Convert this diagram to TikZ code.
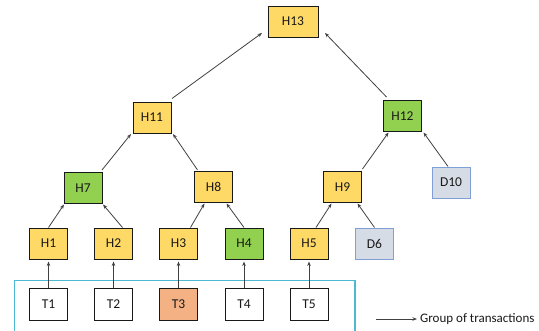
\documentclass[tikz,border=0pt]{standalone}
\usepackage{fontspec}
\setmainfont{Carlito}
\usetikzlibrary{arrows.meta,calc}
\definecolor{hy}{HTML}{FFD966}
\definecolor{hg}{HTML}{92D050}
\definecolor{dfill}{HTML}{D6DCE5}
\definecolor{dline}{HTML}{7F9FD6}
\definecolor{tsel}{HTML}{F4B183}
\definecolor{grpc}{HTML}{4DB8D2}
\begin{document}
\begin{tikzpicture}[x=1pt,y=-1pt,
  box/.style={draw=black!90, line width=1pt, minimum width=38pt, minimum height=31pt,
    inner sep=0pt, font=\fontsize{13.5}{15}\selectfont, text=black!90},
  hb/.style={box, fill=hy},
  gb/.style={box, fill=hg},
  db/.style={box, fill=dfill, draw=dline},
  tb/.style={box, fill=white, minimum height=32pt},
  arr/.style={draw=black!75, line width=0.8pt, -{Stealth[length=4.5pt,width=3.5pt]}},
  lbl/.style={inner sep=0pt, font=\fontsize{13}{15}\selectfont, text=black!90}
]
\useasboundingbox (0,0) rectangle (539,330);

% group of transactions box
\draw[grpc, line width=1.3pt] (14.3,280.7) rectangle (355,333);

% nodes
\node[hb, minimum width=50pt] (H13) at (293,21.5) {H13};
\node[hb] (H11) at (152,117.5) {H11};
\node[gb] (H12) at (402.5,116) {H12};
\node[gb] (H7) at (83,188) {H7};
\node[hb] (H8) at (213.5,187) {H8};
\node[hb] (H9) at (342.5,187) {H9};
\node[db] (D10) at (451,182.5) {D10};
\node[hb] (H1) at (48.5,243.5) {H1};
\node[hb] (H2) at (113.5,243.5) {H2};
\node[hb] (H3) at (178.5,243.5) {H3};
\node[gb] (H4) at (244,243.5) {H4};
\node[hb] (H5) at (309,243.5) {H5};
\node[db] (D6) at (374.5,243.5) {D6};
\node[tb] (T1) at (48.5,304) {T1};
\node[tb] (T2) at (113.5,304) {T2};
\node[tb, fill=tsel] (T3) at (178.5,304) {T3};
\node[tb] (T4) at (244,304) {T4};
\node[tb] (T5) at (309,304) {T5};

% tree edges
\draw[arr] ($(H1.center)+(0,-16)$) -- ($(H7.center)+(-19,16.5)$);
\draw[arr] ($(H2.center)+(9,-16)$) -- ($(H7.center)+(20,16.5)$);
\draw[arr] ($(H3.center)+(12,-16)$) -- ($(H8.center)+(-9,16.5)$);
\draw[arr] ($(H4.center)+(0,-16)$) -- ($(H8.center)+(13,16.5)$);
\draw[arr] ($(H5.center)+(7,-16)$) -- ($(H9.center)+(-11,16.5)$);
\draw[arr] ($(D6.center)+(0,-16)$) -- ($(H9.center)+(15,16.5)$);
\draw[arr] ($(H7.center)+(19,-18)$) -- ($(H11.center)+(-21,16.5)$);
\draw[arr] ($(H8.center)+(-16,-17)$) -- ($(H11.center)+(21,16.5)$);
\draw[arr] ($(H9.center)+(20,-18)$) -- ($(H12.center)+(-14,16.5)$);
\draw[arr] ($(D10.center)+(-3,-16)$) -- ($(H12.center)+(21,16.5)$);
\draw[arr] ($(H11.center)+(20,-19)$) -- ($(H13.center)+(-31,11.5)$);
\draw[arr] ($(H12.center)+(-16,-19)$) -- ($(H13.center)+(32,11.5)$);

% transaction to leaf hashes
\foreach \t/\h in {T1/H1,T2/H2,T3/H3,T4/H4,T5/H5}
  \draw[arr, shorten >=2pt] (\t.north) -- (\h.south);

% legend
\coordinate (g0) at (375.5,319);
\node[lbl, anchor=base west] (grp) at (420,322.3) {Group of transactions};
\draw[arr, shorten >=3pt] (g0) -- (grp.west |- g0);
\end{tikzpicture}
\end{document}
